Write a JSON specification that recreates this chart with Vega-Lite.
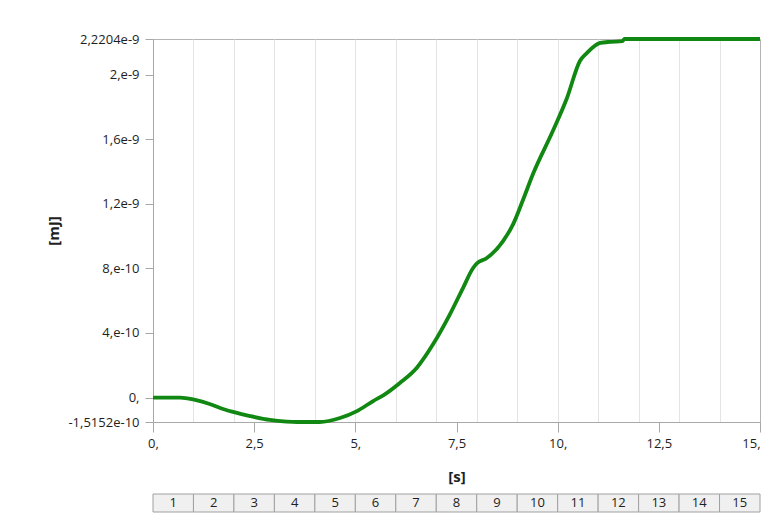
{
  "$schema": "https://vega.github.io/schema/vega-lite/v6.json",
  "background": "white",
  "padding": {"left": 46, "top": 30, "right": 0, "bottom": 0},
  "config": {"font": "Open Sans", "view": {"stroke": null}},
  "spacing": 8,
  "vconcat": [
    {
      "width": 607,
      "height": 383,
      "view": {"stroke": "#b4b4b4"},
      "data": {
        "values": [
          {"time": 0, "energy": 0},
          {"time": 0.67, "energy": 0},
          {"time": 1.04, "energy": -1.5e-11},
          {"time": 1.4, "energy": -4.0e-11},
          {"time": 1.73, "energy": -7.1e-11},
          {"time": 2.05, "energy": -9.4e-11},
          {"time": 2.4, "energy": -1.15e-10},
          {"time": 2.89, "energy": -1.39e-10},
          {"time": 3.3, "energy": -1.49e-10},
          {"time": 3.56, "energy": -1.515e-10},
          {"time": 4.12, "energy": -1.5152e-10},
          {"time": 4.62, "energy": -1.27e-10},
          {"time": 5.04, "energy": -8.4e-11},
          {"time": 5.44, "energy": -2.2e-11},
          {"time": 5.7, "energy": 1.5e-11},
          {"time": 6.1, "energy": 9.0e-11},
          {"time": 6.52, "energy": 1.85e-10},
          {"time": 6.92, "energy": 3.3e-10},
          {"time": 7.34, "energy": 5.17e-10},
          {"time": 7.66, "energy": 6.78e-10},
          {"time": 7.91, "energy": 8.02e-10},
          {"time": 8.0, "energy": 8.3e-10},
          {"time": 8.25, "energy": 8.64e-10},
          {"time": 8.65, "energy": 9.69e-10},
          {"time": 8.9, "energy": 1.074e-9},
          {"time": 9.14, "energy": 1.222e-9},
          {"time": 9.39, "energy": 1.384e-9},
          {"time": 9.88, "energy": 1.65e-9},
          {"time": 10.23, "energy": 1.855e-9},
          {"time": 10.55, "energy": 2.084e-9},
          {"time": 10.72, "energy": 2.133e-9},
          {"time": 11.05, "energy": 2.196e-9},
          {"time": 11.3, "energy": 2.203e-9},
          {"time": 11.6, "energy": 2.207e-9},
          {"time": 11.65, "energy": 2.2204e-9},
          {"time": 15, "energy": 2.2204e-9}
        ]
      },
      "mark": {"type": "line", "color": "#118811", "strokeWidth": 3.8, "interpolate": "monotone"},
      "encoding": {
        "x": {
          "field": "time",
          "type": "quantitative",
          "scale": {"domain": [0, 15], "nice": false, "zero": false},
          "title": "[s]",
          "axis": {
            "values": [0, 1, 2, 2.5, 3, 4, 5, 6, 7, 7.5, 8, 9, 10, 11, 12, 12.5, 13, 14, 15],
            "labelExpr": "datum.value % 2.5 == 0 ? (datum.value % 1 == 0 ? datum.value + ',' : replace(datum.value + '', '.', ',')) : ''",
            "labelAlign": {"condition": {"test": "datum.value == 15", "value": "right"}, "value": "center"},
            "labelFlush": false,
            "labelOverlap": false,
            "tickOpacity": {"condition": {"test": "datum.value % 2.5 != 0", "value": 0}, "value": 1},
            "gridOpacity": {"condition": {"test": "datum.value % 1 != 0 || datum.value == 0 || datum.value == 15", "value": 0}, "value": 1},
            "grid": true,
            "gridColor": "#e4e4e4",
            "tickColor": "#a8a8a8",
            "tickSize": 10,
            "domainColor": "#a8a8a8",
            "labelFontSize": 13,
            "labelColor": "#1e1e1e",
            "labelPadding": 5,
            "titleFontSize": 15,
            "titleFontWeight": "bold",
            "titleColor": "#1e1e1e",
            "titlePadding": 19
          }
        },
        "y": {
          "field": "energy",
          "type": "quantitative",
          "scale": {"domain": [-1.5152e-10, 2.2204e-9], "nice": false, "zero": false},
          "title": "[mJ]",
          "axis": {
            "values": [-1.5152e-10, 0, 4e-10, 8e-10, 1.2e-9, 1.6e-9, 2e-9, 2.2204e-9],
            "labelExpr": "abs(datum.value) < 1e-15 ? '0,' : replace(indexof(format(datum.value, '.5~e'), '.') >= 0 ? replace(format(datum.value, '.5~e'), '.', ',') : replace(format(datum.value, '.5~e'), 'e', ',e'), '\u2212', '-')",
            "grid": false,
            "tickColor": "#a8a8a8",
            "tickSize": 8,
            "domainColor": "#a8a8a8",
            "labelFontSize": 13,
            "labelColor": "#1e1e1e",
            "labelPadding": 6,
            "labelOverlap": false,
            "labelFlush": false,
            "titleFontSize": 15,
            "titleFontWeight": "bold",
            "titleColor": "#1e1e1e",
            "titlePadding": 6
          }
        }
      }
    },
    {
      "width": 607,
      "height": 18,
      "data": {
        "values": [
          {"step": 1}, {"step": 2}, {"step": 3}, {"step": 4}, {"step": 5},
          {"step": 6}, {"step": 7}, {"step": 8}, {"step": 9}, {"step": 10},
          {"step": 11}, {"step": 12}, {"step": 13}, {"step": 14}, {"step": 15}
        ]
      },
      "encoding": {
        "x": {
          "field": "step",
          "type": "ordinal",
          "scale": {"paddingInner": 0, "paddingOuter": 0},
          "axis": null
        }
      },
      "layer": [
        {"mark": {"type": "rect", "fill": "#f0f0f0", "stroke": "#a0a0a0", "strokeWidth": 1}},
        {
          "mark": {"type": "text", "fontSize": 13, "color": "#1e1e1e", "baseline": "middle"},
          "encoding": {"text": {"field": "step", "type": "ordinal"}}
        }
      ]
    }
  ]
}
